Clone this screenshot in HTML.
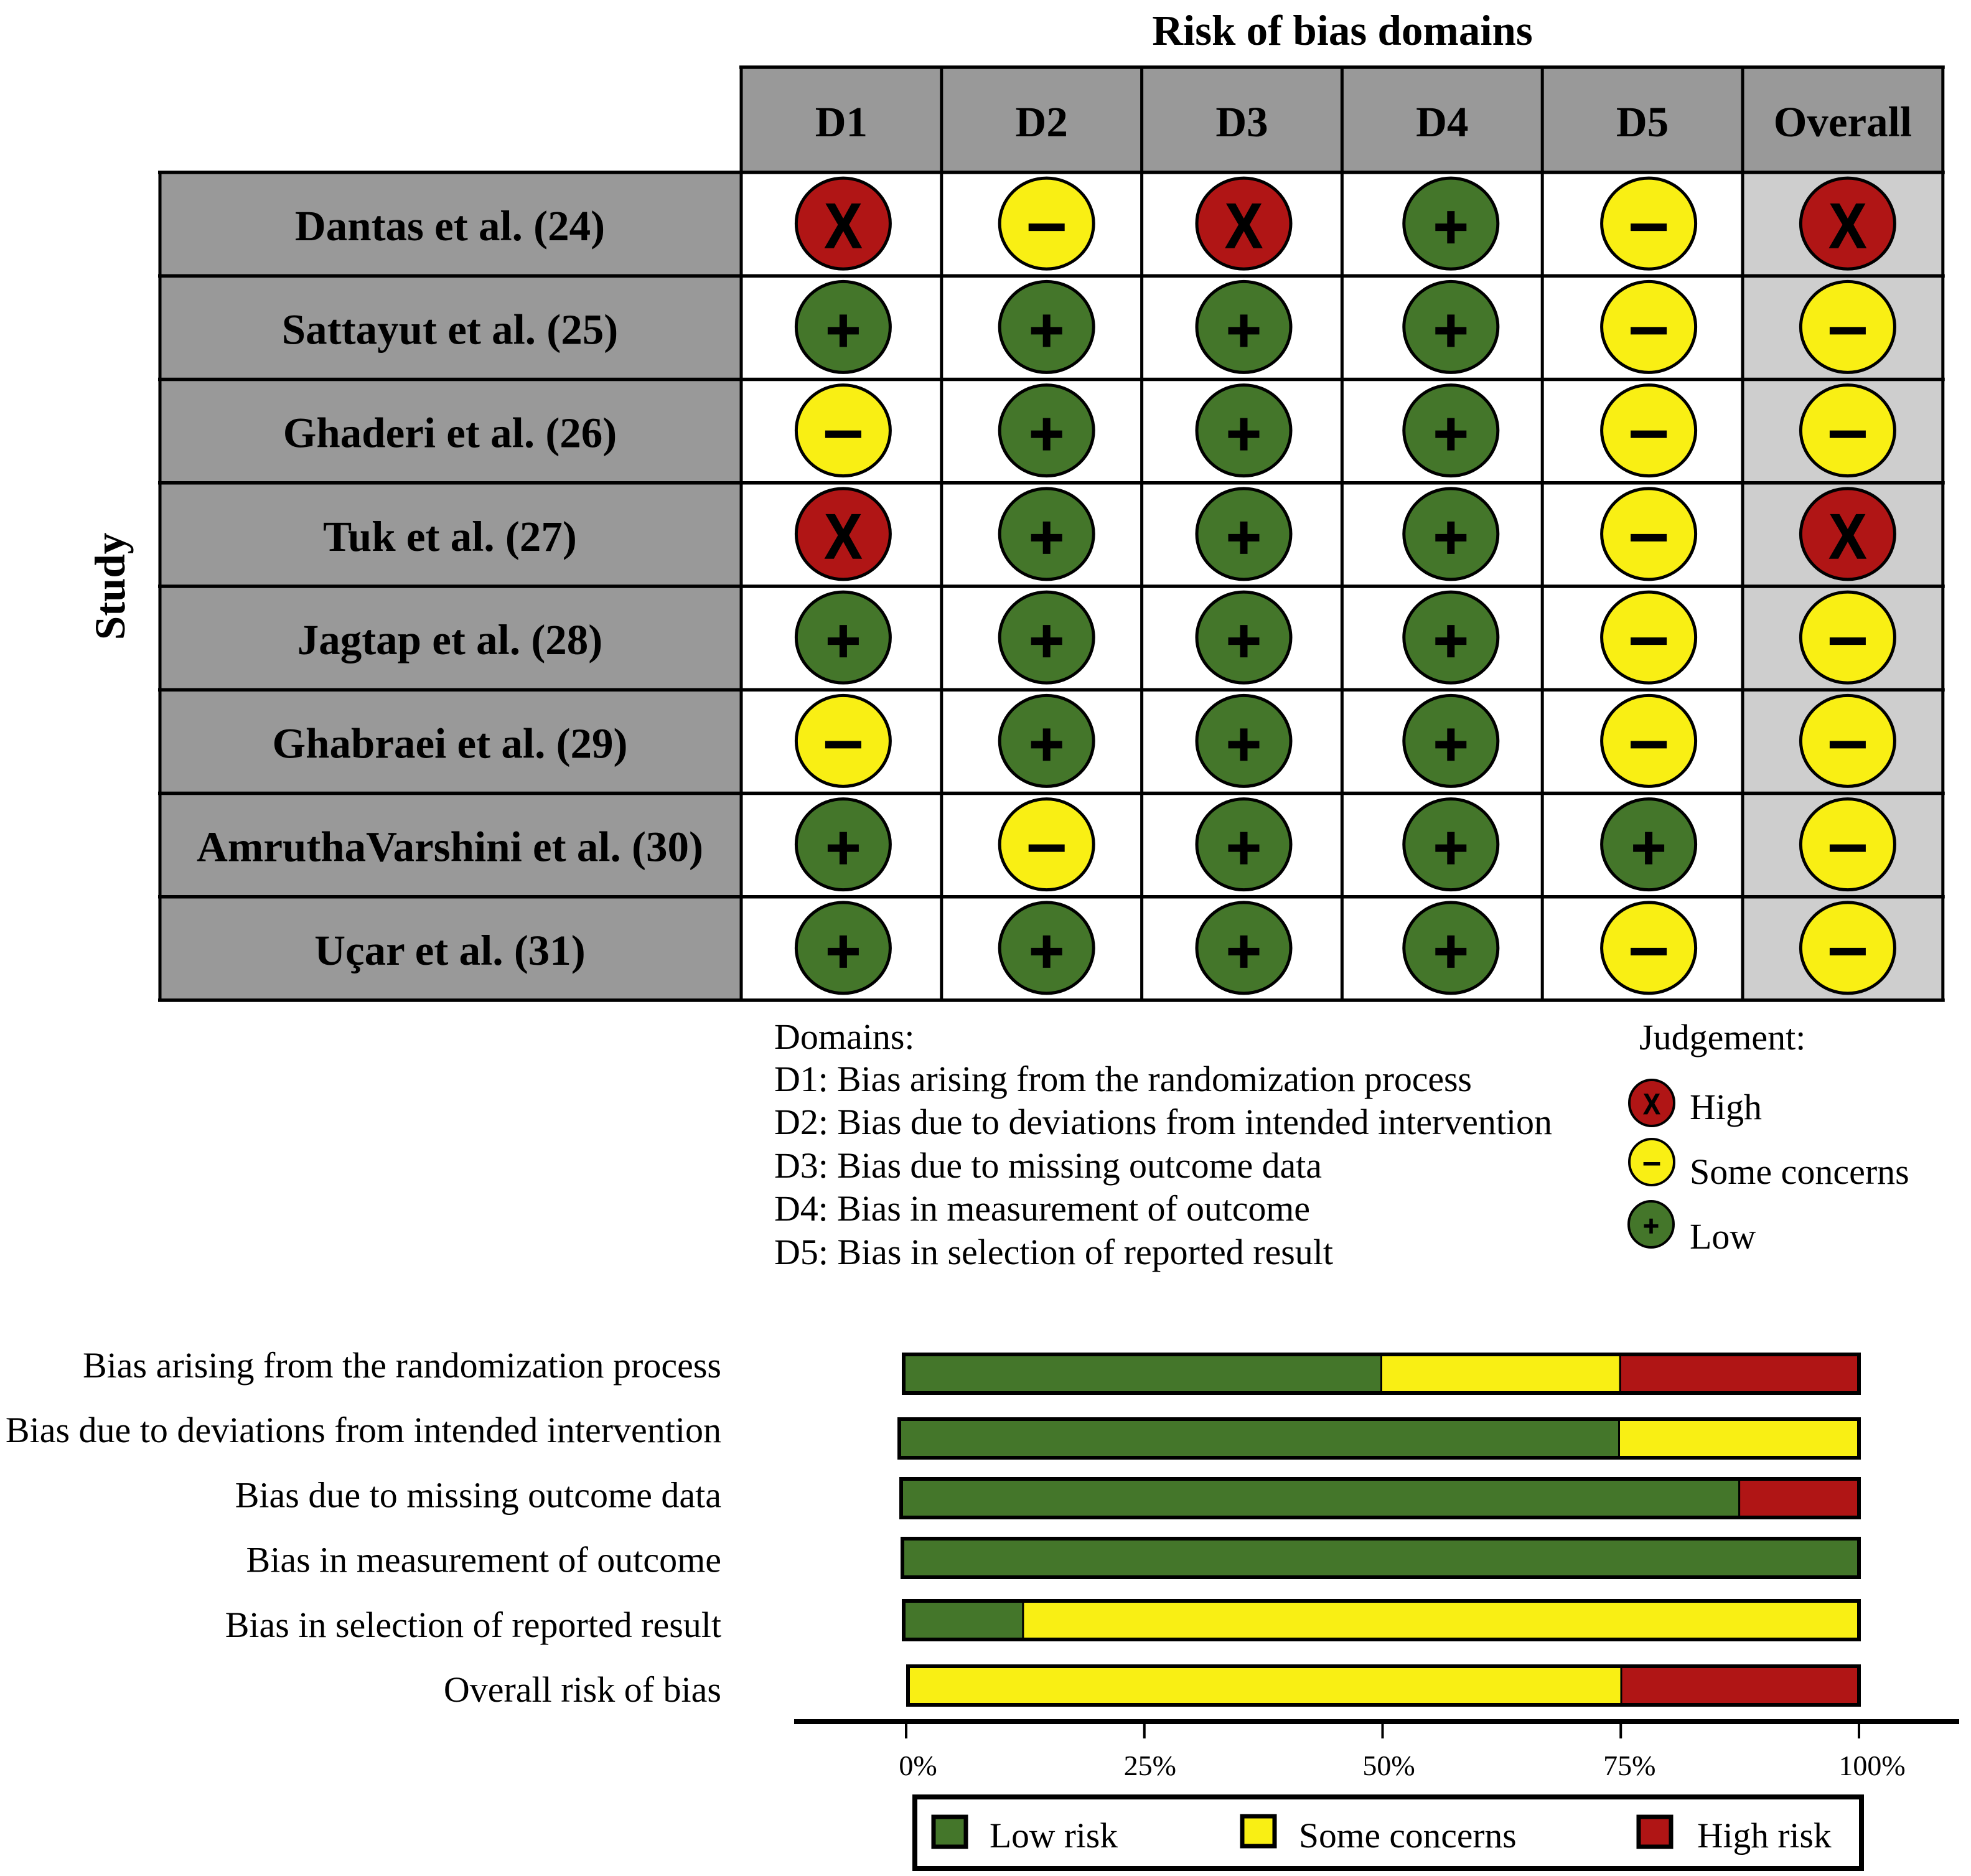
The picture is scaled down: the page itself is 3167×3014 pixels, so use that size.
<!DOCTYPE html>
<html lang="en">
<head>
<meta charset="utf-8">
<title>Risk of bias chart</title>
<style>
html,body{margin:0;padding:0;background:#fff;}
svg{display:block;}
text{font-family:"Liberation Serif",serif;fill:#000;}
.b{font-weight:bold;font-size:69px;}
.r{font-size:58px;}
</style>
</head>
<body>
<svg id="chart" xmlns="http://www.w3.org/2000/svg" width="3167" height="3014" viewBox="0 0 3167 3014">
<rect width="3167" height="3014" fill="#fff"/>
<text class="b" x="2157" y="72" text-anchor="middle">Risk of bias domains</text>
<text class="b" text-anchor="middle" transform="translate(200,942) rotate(-90)">Study</text>
<g id="grid"></g>
<g>
<text class="r" x="1244" y="1685">Domains:</text>
<text class="r" x="1244" y="1753" textLength="1121">D1: Bias arising from the randomization process</text>
<text class="r" x="1244" y="1822" textLength="1250">D2: Bias due to deviations from intended intervention</text>
<text class="r" x="1244" y="1892" textLength="880">D3: Bias due to missing outcome data</text>
<text class="r" x="1244" y="1961" textLength="861">D4: Bias in measurement of outcome</text>
<text class="r" x="1244" y="2031" textLength="898">D5: Bias in selection of reported result</text>
</g>
<g id="judgement">
<text class="r" x="2634" y="1686">Judgement:</text>
<text class="r" x="2715" y="1798">High</text>
<text class="r" x="2715" y="1902">Some concerns</text>
<text class="r" x="2715" y="2006">Low</text>
</g>
<g id="bars"></g>
<g>
<rect x="1470" y="2887" width="1521" height="115" fill="#fff" stroke="#000" stroke-width="8"/>
<rect x="1500" y="2919" width="52" height="48" fill="#44762a" stroke="#000" stroke-width="7"/>
<text x="1590" y="2968" font-size="57.5">Low risk</text>
<rect x="1996" y="2918" width="52" height="48" fill="#f9ef14" stroke="#000" stroke-width="7"/>
<text x="2087" y="2968" font-size="57.5">Some concerns</text>
<rect x="2633" y="2919" width="52" height="48" fill="#b01515" stroke="#000" stroke-width="7"/>
<text x="2727" y="2968" font-size="57.5">High risk</text>
</g>
</svg>
<script>
// ---- Traffic-light data ----
const domains = ["D1", "D2", "D3", "D4", "D5", "Overall"];
const studies = ["Dantas et al. (24)", "Sattayut et al. (25)", "Ghaderi et al. (26)", "Tuk et al. (27)", "Jagtap et al. (28)", "Ghabraei et al. (29)", "AmruthaVarshini et al. (30)", "Uçar et al. (31)"];
const dantas = ["H", "S", "H", "L", "S", "H"];
const sattayut = ["L", "L", "L", "L", "S", "S"];
const ghaderi = ["S", "L", "L", "L", "S", "S"];
const tuk = ["H", "L", "L", "L", "S", "H"];
const jagtap = ["L", "L", "L", "L", "S", "S"];
const ghabraei = ["S", "L", "L", "L", "S", "S"];
const amrutha = ["L", "S", "L", "L", "L", "S"];
const ucar = ["L", "L", "L", "L", "S", "S"];
const judgements = [dantas, sattayut, ghaderi, tuk, jagtap, ghabraei, amrutha, ucar];

// ---- Summary bar data (percent of studies) ----
const barLabels = ["Bias arising from the randomization process", "Bias due to deviations from intended intervention", "Bias due to missing outcome data", "Bias in measurement of outcome", "Bias in selection of reported result", "Overall risk of bias"];
const lowRisk = [50, 75, 87.5, 100, 12.5, 0];
const someConcerns = [25, 25, 0, 0, 87.5, 75];
const highRisk = [25, 0, 12.5, 0, 0, 25];
const tickValues = [0, 25, 50, 75, 100];
const tickLabels = ["0%", "25%", "50%", "75%", "100%"];

const NS = "http://www.w3.org/2000/svg";
const COLORS = { L: "#44762a", S: "#f9ef14", H: "#b01515" };
const NAMES = { L: "low", S: "some-concerns", H: "high" };

function mk(parent, tag, props, txt) {
  const e = document.createElementNS(NS, tag);
  for (const k in props) e.setAttribute(k, props[k]);
  if (txt !== undefined) e.textContent = txt;
  parent.appendChild(e);
  return e;
}

// Grid scales
const gridTop = 108, headBottom = 277, rowH = 166.25, gridLeft = 257, colLeft = 1191, colW = 321.8;
const colX = i => colLeft + i * colW;
const rowY = i => headBottom + i * rowH;
const symbolShift = [3, 8, 3, 14, 10, 8];
const symX = i => colX(i) + colW / 2 + symbolShift[i];
const symY = i => rowY(i) + rowH / 2 - 1;

function drawSymbol(parent, j, cx, cy, rx, ry, k, name) {
  const g = mk(parent, "g", {});
  
  
  const ell = mk(g, "ellipse", { cx: cx, cy: cy, rx: rx, ry: ry, fill: COLORS[j], stroke: "#000", "stroke-width": 5 * Math.max(k, 0.8) });
  
  
  if (j === "H") {
    const t = mk(g, "text", { x: 0, y: 0, "text-anchor": "middle", style: 'font-family:"Liberation Sans",sans-serif;font-weight:bold;font-size:' + (102 * k) + 'px;stroke:#000;stroke-width:' + (1.5 * k), transform: "translate(" + cx + "," + (cy + 39 * k) + ") scale(0.88,1)" }, "X");
    
    
  } else {
    const h = mk(g, "rect", { x: cx - (j === "L" ? 25 : 29) * k, y: cy + 6 * k - 6 * k, width: (j === "L" ? 50 : 58) * k, height: 12 * k, fill: "#000" });
    
    
    if (j === "L") {
      const v = mk(g, "rect", { x: cx - 6 * k, y: cy + 6 * k - 26 * k, width: 12 * k, height: 52 * k, fill: "#000" });
      
      
    }
  }
}

const grid = document.getElementById("grid");
// Header cells
domains.forEach((d, i) => {
  const c = mk(grid, "rect", { x: colX(i), y: gridTop, width: colW, height: headBottom - gridTop, fill: "#999999" });
  
  
  const t = mk(grid, "text", { x: colX(i) + colW / 2, y: 219, "text-anchor": "middle", class: "b" }, d);
  
  
});
// Overall column shading + study cells
const overallShade = mk(grid, "rect", { x: colX(5), y: headBottom, width: colW, height: rowH * studies.length, fill: "#cecece" });


studies.forEach((s, r) => {
  const c = mk(grid, "rect", { x: gridLeft, y: rowY(r), width: colLeft - gridLeft, height: rowH, fill: "#999999" });
  
  
  const t = mk(grid, "text", { x: (gridLeft + colLeft) / 2 - 1, y: rowY(r) + rowH / 2 + 26, "text-anchor": "middle", class: "b" }, s);
  
  
});
// Grid lines
for (let r = 0; r <= studies.length; r++) {
  const l = mk(grid, "line", { x1: gridLeft - 3, x2: colX(6) + 3, y1: rowY(r), y2: rowY(r), stroke: "#000", "stroke-width": 5.5 });
  
  
}
const topLine = mk(grid, "line", { x1: colLeft - 3, x2: colX(6) + 3, y1: gridTop, y2: gridTop, stroke: "#000", "stroke-width": 5.5 });


for (let c = 0; c <= domains.length; c++) {
  const l = mk(grid, "line", { x1: colX(c), x2: colX(c), y1: gridTop, y2: rowY(studies.length), stroke: "#000", "stroke-width": 5 });
  
  
}
const leftLine = mk(grid, "line", { x1: gridLeft, x2: gridLeft, y1: headBottom, y2: rowY(studies.length), stroke: "#000", "stroke-width": 5 });


// Symbols
judgements.forEach((row, r) => {
  row.forEach((j, c) => {
    drawSymbol(grid, j, symX(c), symY(r), 75.5, 73, 1, 'judgement-' + NAMES[j]);
  });
});

// Judgement legend symbols
const jl = document.getElementById("judgement");
drawSymbol(jl, "H", 2654, 1772, 36, 37, 0.46, 'legend-symbol-high');
drawSymbol(jl, "S", 2654, 1867, 36, 37, 0.46, 'legend-symbol-some');
drawSymbol(jl, "L", 2653, 1967, 36, 37, 0.46, 'legend-symbol-low');

// Summary bars
const barsG = document.getElementById("bars");
const x100 = 2987;
// Layout only: each bar's drawn left edge and top edge in the source figure
const barOrigin = [1452, 1445, 1448, 1450, 1452, 1459];
const barTop = [2176, 2280, 2376, 2472, 2572, 2677];
const barH = 62;
const xScale = (v, i) => barOrigin[i] + (x100 - barOrigin[i]) * v / 100;
const labelY = i => 2213 + i * 104.2;

barLabels.forEach((lab, i) => {
  const t = mk(barsG, "text", { x: 1159, y: labelY(i), "text-anchor": "end", class: "r" }, lab);
  
  
  let cum = 0;
  [["L", lowRisk[i]], ["S", someConcerns[i]], ["H", highRisk[i]]].forEach(([key, v]) => {
    if (v > 0) {
      const seg = mk(barsG, "rect", { x: xScale(cum, i), y: barTop[i], width: xScale(cum + v, i) - xScale(cum, i), height: barH, fill: COLORS[key], stroke: "#000", "stroke-width": 3 });
      
      
    }
    cum += v;
  });
  const o = mk(barsG, "rect", { x: xScale(0, i), y: barTop[i], width: xScale(cum, i) - xScale(0, i), height: barH, fill: "none", stroke: "#000", "stroke-width": 6 });
  
  
});

// Axis
const axisLine = mk(barsG, "line", { x1: 1276, x2: 3148, y1: 2766, y2: 2766, stroke: "#000", "stroke-width": 8 });


const tickLabelShift = [19, 9, 10, 14, 21];
tickValues.forEach((v, i) => {
  const tx = 1456 + (x100 - 1456) * v / 100;
  const tk = mk(barsG, "line", { x1: tx, x2: tx, y1: 2766, y2: 2793, stroke: "#000", "stroke-width": 4 });
  
  
  const tl = mk(barsG, "text", { x: tx + tickLabelShift[i], y: 2852, "text-anchor": "middle", "font-size": 46 }, tickLabels[i]);
  
  
});
</script>
</body>
</html>
